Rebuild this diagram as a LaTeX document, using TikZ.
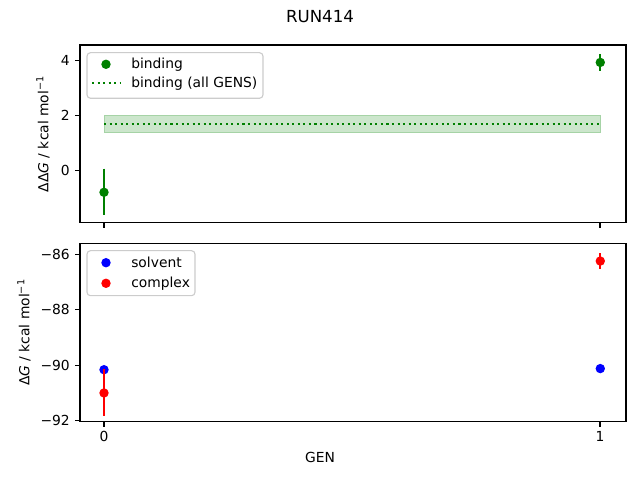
\documentclass[tikz,border=0pt]{standalone}
\usepackage{fontspec}
\setmainfont{DejaVu Sans}
\definecolor{mplgreen}{RGB}{0,128,0}
\definecolor{mplblue}{RGB}{0,0,255}
\definecolor{mplred}{RGB}{255,0,0}
\definecolor{mplband}{RGB}{204,230,204}
\definecolor{legedge}{RGB}{204,204,204}
\tikzset{
  dot/.style={circle, inner sep=0pt, minimum size=6.8pt, fill},
  errbar/.style={line width=1.5pt},
  axframe/.style={line width=0.8pt},
  axtick/.style={line width=0.8pt},
  lab/.style={inner sep=0pt, font=\fontsize{10}{12}\selectfont},
  legbox/.style={draw=legedge, fill=white, rounded corners=2.5pt, line width=0.8pt},
  meanline/.style={mplgreen, line width=1.5pt, dash pattern=on 1.5pt off 2.5pt}
}
\begin{document}
\begin{tikzpicture}[x=0.01in, y=0.01in]
\useasboundingbox (0,0) rectangle (640,480);
\node[lab, font=\fontsize{12}{14}\selectfont] (title) at (320,463) {RUN414};
\node[lab] (genlab) at (320,23) {GEN};
\begin{scope}[shift={(104,309.7)}, x=4.96in, y=0.275in]
\coordinate (bandl) at (0,1.39);
\coordinate (bandr) at (1,1.99);
\fill[mplband, draw=mplgreen!35, line width=0.5pt] (bandl) rectangle (bandr);
\coordinate (mean0) at (0,1.69);
\coordinate (mean1) at (1,1.69);
\draw[meanline] (mean0) -- (mean1);
\coordinate (bnd0hi) at (0,0.06);
\coordinate (bnd0lo) at (0,-1.64);
\draw[errbar, mplgreen] (bnd0hi) -- (bnd0lo);
\node[dot, mplgreen] (bnd0) at (0,-0.80){};
\coordinate (bnd1hi) at (1,4.23);
\coordinate (bnd1lo) at (1,3.61);
\draw[errbar, mplgreen] (bnd1hi) -- (bnd1lo);
\node[dot, mplgreen] (bnd1) at (1,3.92){};
\end{scope}
\begin{scope}[shift={(104,2607.7)}, x=4.96in, y=0.277in]
\coordinate (slv0hi) at (0,-90.06);
\coordinate (slv0lo) at (0,-90.16);
\draw[errbar, mplblue] (slv0hi) -- (slv0lo);
\node[dot, mplblue] (slv0) at (0,-90.11){};
\coordinate (slv1hi) at (1,-90.03);
\coordinate (slv1lo) at (1,-90.11);
\draw[errbar, mplblue] (slv1hi) -- (slv1lo);
\node[dot, mplblue] (slv1) at (1,-90.07){};
\coordinate (cpx0hi) at (0,-90.10);
\coordinate (cpx0lo) at (0,-91.78);
\draw[errbar, mplred] (cpx0hi) -- (cpx0lo);
\node[dot, mplred] (cpx0) at (0,-90.95){};
\coordinate (cpx1hi) at (1,-85.90);
\coordinate (cpx1lo) at (1,-86.46);
\draw[errbar, mplred] (cpx1hi) -- (cpx1lo);
\node[dot, mplred] (cpx1) at (1,-86.19){};
\end{scope}
\draw[axframe] (80,257.3) rectangle (626,435);
\draw[axframe] (80,58.3) rectangle (626,236.7);
\draw[axtick] (80,309.7) -- (75.1,309.7);
\draw[axtick] (80,364.7) -- (75.1,364.7);
\draw[axtick] (80,419.7) -- (75.1,419.7);
\node[lab, anchor=east] (ty0) at (70,309.7) {0};
\node[lab, anchor=east] (ty2) at (70,364.7) {2};
\node[lab, anchor=east] (ty4) at (70,419.7) {4};
\draw[axtick] (104,257.3) -- (104,252.4);
\draw[axtick] (600,257.3) -- (600,252.4);
\draw[axtick] (80,59.3) -- (75.1,59.3);
\draw[axtick] (80,114.7) -- (75.1,114.7);
\draw[axtick] (80,170.1) -- (75.1,170.1);
\draw[axtick] (80,225.5) -- (75.1,225.5);
\node[lab, anchor=east] (tb92) at (70,59.3) {−92};
\node[lab, anchor=east] (tb90) at (70,114.7) {−90};
\node[lab, anchor=east] (tb88) at (70,170.1) {−88};
\node[lab, anchor=east] (tb86) at (70,225.5) {−86};
\draw[axtick] (104,58.3) -- (104,53.4);
\draw[axtick] (600,58.3) -- (600,53.4);
\node[lab, anchor=north] (tx0) at (104,48.6) {0};
\node[lab, anchor=north] (tx1) at (600,48.6) {1};
\node[lab, rotate=90] (ylabtop) at (43,346) {ΔΔ\textit{G} / kcal mol\textsuperscript{−1}};
\node[lab, rotate=90] (ylabbot) at (24,147.5) {Δ\textit{G} / kcal mol\textsuperscript{−1}};
\draw[legbox] (87,381.7) rectangle (263,427.3);
\node[dot, mplgreen] (legbnd) at (106,415.7){};
\node[lab, anchor=west] (legbndtxt) at (131,415.7) {binding};
\coordinate (legmean0) at (92,396.7);
\coordinate (legmean1) at (120,396.7);
\draw[meanline] (legmean0) -- (legmean1);
\node[lab, anchor=west] (legmeantxt) at (131,396.7) {binding (all GENS)};
\draw[legbox] (87,184.3) rectangle (195,229.3);
\node[dot, mplblue] (legslv) at (106,217.3){};
\node[lab, anchor=west] (legslvtxt) at (131,217.3) {solvent};
\node[dot, mplred] (legcpx) at (106,196.7){};
\node[lab, anchor=west] (legcpxtxt) at (131,196.7) {complex};
\end{tikzpicture}
\end{document}
